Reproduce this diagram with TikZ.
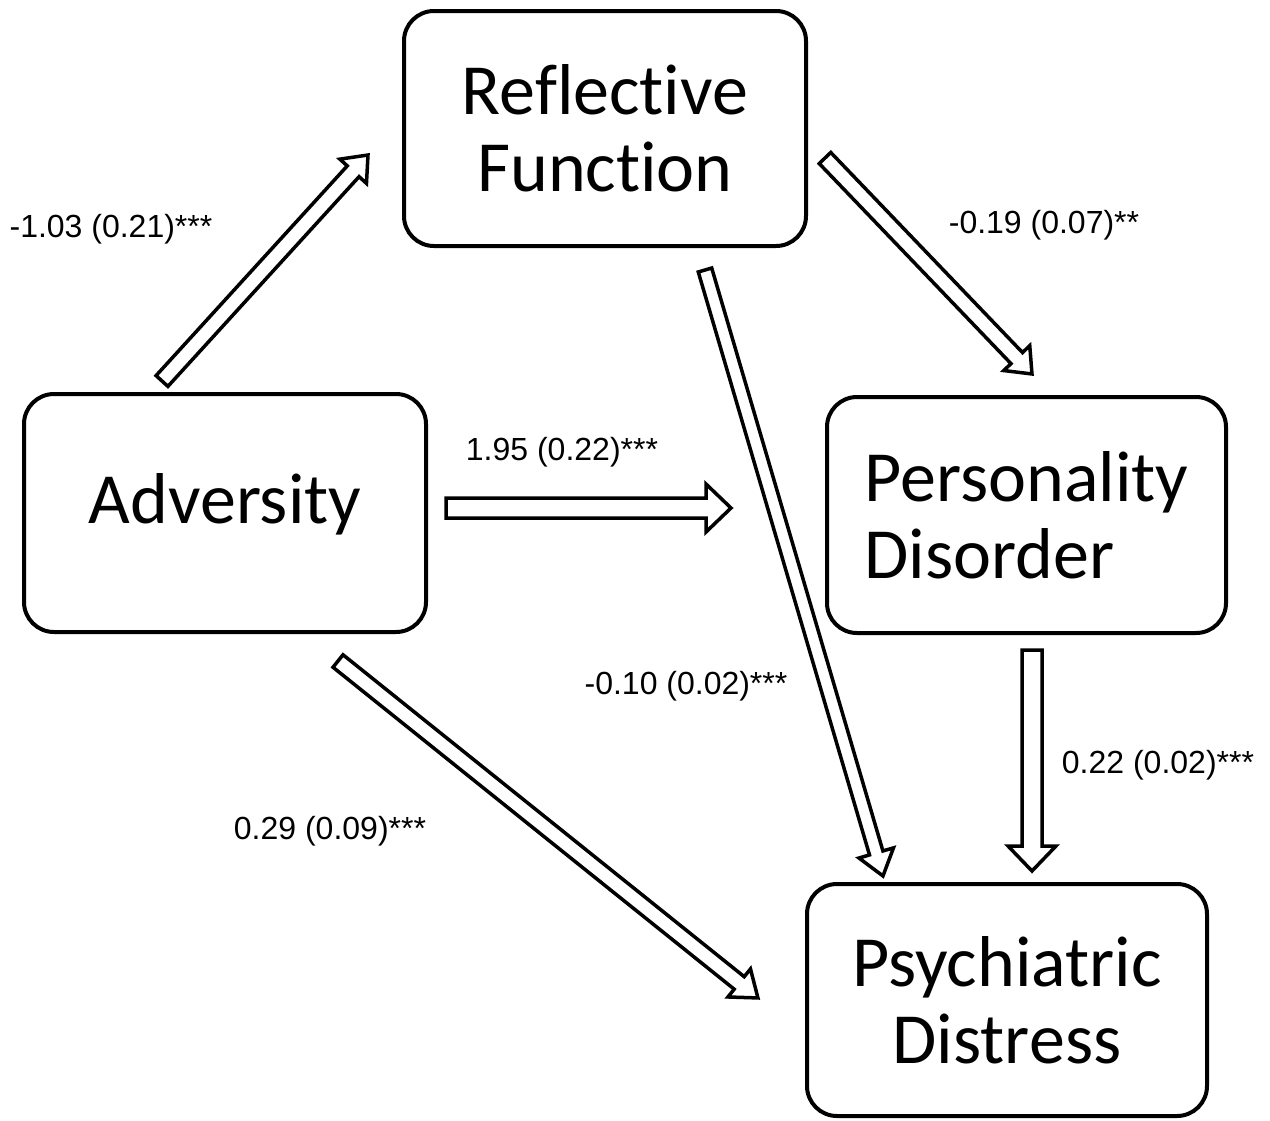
\documentclass[tikz,border=0pt]{standalone}
\usepackage{fontspec}
\setmainfont{Carlito}[RawFeature={-liga;-clig;-dlig}]
\newfontfamily\arialf{Liberation Sans}
\usetikzlibrary{calc}
\tikzset{
  box/.style={draw, line width=4pt, rounded corners=30pt, align=center,
    inner sep=0pt, font=\fontsize{72}{77}\selectfont},
  blockarrow/.style={draw, line width=3.5pt, line join=miter, miter limit=10, fill=white},
  coef/.style={font=\arialf\fontsize{32}{36}\selectfont, anchor=base, inner sep=0pt}
}
\newcommand\barrow[5]{%
  \path let \p1=($(#2)-(#1)$) in \pgfextra{%
    \pgfmathsetmacro\barang{atan2(\y1,\x1)}%
    \pgfmathsetmacro\barlen{veclen(\x1,\y1)}%
    \xdef\barang{\barang}\xdef\barlen{\barlen}};
  \draw[blockarrow, shift={(#1)}, rotate=\barang]
    (0pt,-#3pt) -- ({\barlen pt-#5pt},-#3pt) -- ({\barlen pt-#5pt},-#4pt)
    -- (\barlen pt,0pt) -- ({\barlen pt-#5pt},#4pt) -- ({\barlen pt-#5pt},#3pt)
    -- (0pt,#3pt) -- cycle;
}
\begin{document}
\begin{tikzpicture}[x=1pt,y=-1pt]
\useasboundingbox[fill=white] (0,0) rectangle (1270,1120);
% boxes
\node[box, minimum width=402pt, minimum height=235pt] (rf) at (605,128.5) {Reflective\\Function};
\node[box, minimum width=402pt, minimum height=238pt, text depth=30pt] (adv) at (225,513) {Adversity};
\node[box, minimum width=399pt, minimum height=236pt, align=left] (pd) at (1026.5,515) {Personality\\Disorder};
\node[box, minimum width=400pt, minimum height=232pt] (psy) at (1007,1000) {Psychiatric\\Distress};
% arrow endpoints
\coordinate (a1s) at (162,381); \coordinate (a1e) at (368,155);
\coordinate (a2s) at (825,158); \coordinate (a2e) at (1032,374);
\coordinate (a3s) at (446,508); \coordinate (a3e) at (731,508);
\coordinate (a4s) at (705,270); \coordinate (a4e) at (883,876);
\coordinate (a5s) at (1032,650); \coordinate (a5e) at (1032,871);
\coordinate (a6s) at (338,661); \coordinate (a6e) at (758,998);
% block arrows
\barrow{a1s}{a1e}{8}{18}{22}
\barrow{a2s}{a2e}{8}{18}{22}
\barrow{a3s}{a3e}{10}{24}{25}
\barrow{a4s}{a4e}{7}{18}{24}
\barrow{a5s}{a5e}{10}{24}{25}
\barrow{a6s}{a6e}{8}{18}{24}
% coefficients
\node[coef] (l1) at (111,237) {-1.03 (0.21)***};
\node[coef] (l2) at (1044,233) {-0.19 (0.07)**};
\node[coef] (l3) at (562,460) {1.95 (0.22)***};
\node[coef] (l4) at (686,694) {-0.10 (0.02)***};
\node[coef] (l5) at (1158,773) {0.22 (0.02)***};
\node[coef] (l6) at (330,839) {0.29 (0.09)***};
\end{tikzpicture}
\end{document}
